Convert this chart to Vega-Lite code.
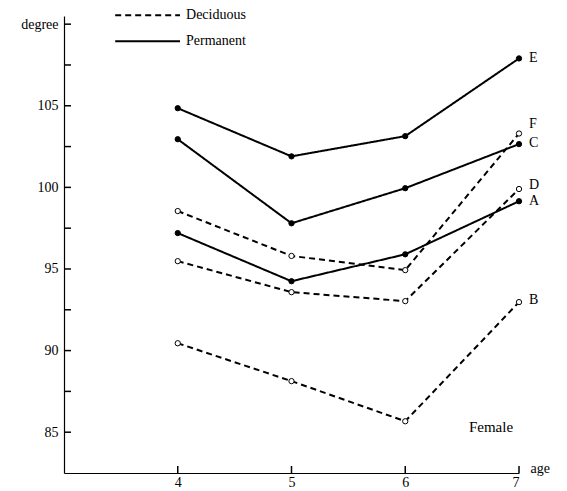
{
  "$schema": "https://vega.github.io/schema/vega-lite/v6.json",
  "autosize": "none",
  "width": 455,
  "height": 457,
  "padding": {"left": 64, "top": 16, "right": 48, "bottom": 18},
  "background": "white",
  "config": {
    "font": "Liberation Serif",
    "view": {"stroke": null},
    "axis": {"grid": false, "ticks": false, "domainColor": "black", "labelColor": "black", "titleColor": "black", "labelFont": "Liberation Serif", "titleFont": "Liberation Serif", "labelFontSize": 14, "titleFontSize": 14, "titleFontWeight": "normal", "domainWidth": 1.2}
  },
  "datasets": {
    "pts": [
      {"series": "E", "type": "Permanent", "age": 4, "deg": 104.85},
      {"series": "E", "type": "Permanent", "age": 5, "deg": 101.9},
      {"series": "E", "type": "Permanent", "age": 6, "deg": 103.14},
      {"series": "E", "type": "Permanent", "age": 7, "deg": 107.9},
      {"series": "C", "type": "Permanent", "age": 4, "deg": 102.95},
      {"series": "C", "type": "Permanent", "age": 5, "deg": 97.8},
      {"series": "C", "type": "Permanent", "age": 6, "deg": 99.95},
      {"series": "C", "type": "Permanent", "age": 7, "deg": 102.65},
      {"series": "A", "type": "Permanent", "age": 4, "deg": 97.2},
      {"series": "A", "type": "Permanent", "age": 5, "deg": 94.25},
      {"series": "A", "type": "Permanent", "age": 6, "deg": 95.9},
      {"series": "A", "type": "Permanent", "age": 7, "deg": 99.15},
      {"series": "F", "type": "Deciduous", "age": 4, "deg": 98.55},
      {"series": "F", "type": "Deciduous", "age": 5, "deg": 95.8},
      {"series": "F", "type": "Deciduous", "age": 6, "deg": 94.93},
      {"series": "F", "type": "Deciduous", "age": 7, "deg": 103.3},
      {"series": "D", "type": "Deciduous", "age": 4, "deg": 95.48},
      {"series": "D", "type": "Deciduous", "age": 5, "deg": 93.58},
      {"series": "D", "type": "Deciduous", "age": 6, "deg": 93.03},
      {"series": "D", "type": "Deciduous", "age": 7, "deg": 99.9},
      {"series": "B", "type": "Deciduous", "age": 4, "deg": 90.45},
      {"series": "B", "type": "Deciduous", "age": 5, "deg": 88.13},
      {"series": "B", "type": "Deciduous", "age": 6, "deg": 85.67},
      {"series": "B", "type": "Deciduous", "age": 7, "deg": 92.97}
    ],
    "labels": [
      {"series": "E", "age": 7, "deg": 107.9},
      {"series": "C", "age": 7, "deg": 102.7},
      {"series": "A", "age": 7, "deg": 99.15},
      {"series": "F", "age": 7, "deg": 103.9},
      {"series": "D", "age": 7, "deg": 100.15},
      {"series": "B", "age": 7, "deg": 93.1}
    ],
    "notes": [
      {"text": "Female", "age": 6.56, "deg": 85.3}
    ],
    "legend": [
      {"type": "Deciduous", "x1": 3.45, "x2": 4.02, "deg": 110.55},
      {"type": "Permanent", "x1": 3.45, "x2": 4.02, "deg": 108.95}
    ],
    "yticks": [
      {"tv": 85}, {"tv": 87.5}, {"tv": 90}, {"tv": 92.5}, {"tv": 95}, {"tv": 97.5},
      {"tv": 100}, {"tv": 102.5}, {"tv": 105}, {"tv": 107.5}, {"tv": 110}
    ],
    "xticks": [
      {"tv": 4}, {"tv": 5}, {"tv": 6}, {"tv": 7}
    ]
  },
  "layer": [
    {
      "data": {"name": "pts"},
      "mark": {"type": "line", "color": "black", "strokeWidth": 2},
      "encoding": {
        "x": {"field": "age", "type": "quantitative", "scale": {"domain": [3, 7], "nice": false, "zero": false},
          "axis": {"values": [4, 5, 6, 7], "format": "d", "title": "age", "titleAngle": 0, "titleAlign": "left", "titleBaseline": "alphabetic", "titleX": 466, "titleY": -1, "labelPadding": 2}},
        "y": {"field": "deg", "type": "quantitative", "scale": {"domain": [82.5, 110.5], "nice": false, "zero": false},
          "axis": {"values": [85, 90, 95, 100, 105, 110], "title": null, "labelPadding": 6,
            "labelExpr": "datum.value == 110 ? 'degree' : datum.label"}},
        "detail": {"field": "series"},
        "strokeDash": {"field": "type", "type": "nominal",
          "scale": {"domain": ["Deciduous", "Permanent"], "range": [[6, 4], [1, 0]]}, "legend": null}
      }
    },
    {
      "data": {"name": "pts"},
      "mark": {"type": "point", "shape": "circle", "size": 28, "stroke": "black", "strokeWidth": 1, "opacity": 1},
      "encoding": {
        "x": {"field": "age", "type": "quantitative"},
        "y": {"field": "deg", "type": "quantitative"},
        "fill": {"field": "type", "type": "nominal", "scale": {"domain": ["Deciduous", "Permanent"], "range": ["white", "black"]}, "legend": null}
      }
    },
    {
      "data": {"name": "labels"},
      "mark": {"type": "text", "align": "left", "dx": 10, "fontSize": 14, "font": "Liberation Serif", "color": "black"},
      "encoding": {
        "x": {"field": "age", "type": "quantitative"},
        "y": {"field": "deg", "type": "quantitative"},
        "text": {"field": "series"}
      }
    },
    {
      "data": {"name": "notes"},
      "mark": {"type": "text", "align": "left", "fontSize": 15, "font": "Liberation Serif", "color": "black"},
      "encoding": {
        "x": {"field": "age", "type": "quantitative"},
        "y": {"field": "deg", "type": "quantitative"},
        "text": {"field": "text"}
      }
    },
    {
      "data": {"name": "legend"},
      "mark": {"type": "rule", "color": "black", "strokeWidth": 2},
      "encoding": {
        "x": {"field": "x1", "type": "quantitative"},
        "x2": {"field": "x2"},
        "y": {"field": "deg", "type": "quantitative"},
        "strokeDash": {"field": "type", "type": "nominal", "legend": null}
      }
    },
    {
      "data": {"name": "legend"},
      "mark": {"type": "text", "align": "left", "dx": 6, "fontSize": 14, "font": "Liberation Serif", "color": "black"},
      "encoding": {
        "x": {"field": "x2", "type": "quantitative"},
        "y": {"field": "deg", "type": "quantitative"},
        "text": {"field": "type"}
      }
    },
    {
      "data": {"name": "yticks"},
      "mark": {"type": "tick", "orient": "horizontal", "color": "black", "opacity": 1, "thickness": 1.5, "size": 7, "xOffset": 3.5},
      "encoding": {
        "x": {"datum": 3, "type": "quantitative"},
        "y": {"field": "tv", "type": "quantitative"}
      }
    },
    {
      "data": {"name": "xticks"},
      "mark": {"type": "tick", "orient": "vertical", "color": "black", "opacity": 1, "thickness": 1.5, "size": 7, "yOffset": -3.5},
      "encoding": {
        "x": {"field": "tv", "type": "quantitative"},
        "y": {"datum": 82.5, "type": "quantitative"}
      }
    }
  ]
}
